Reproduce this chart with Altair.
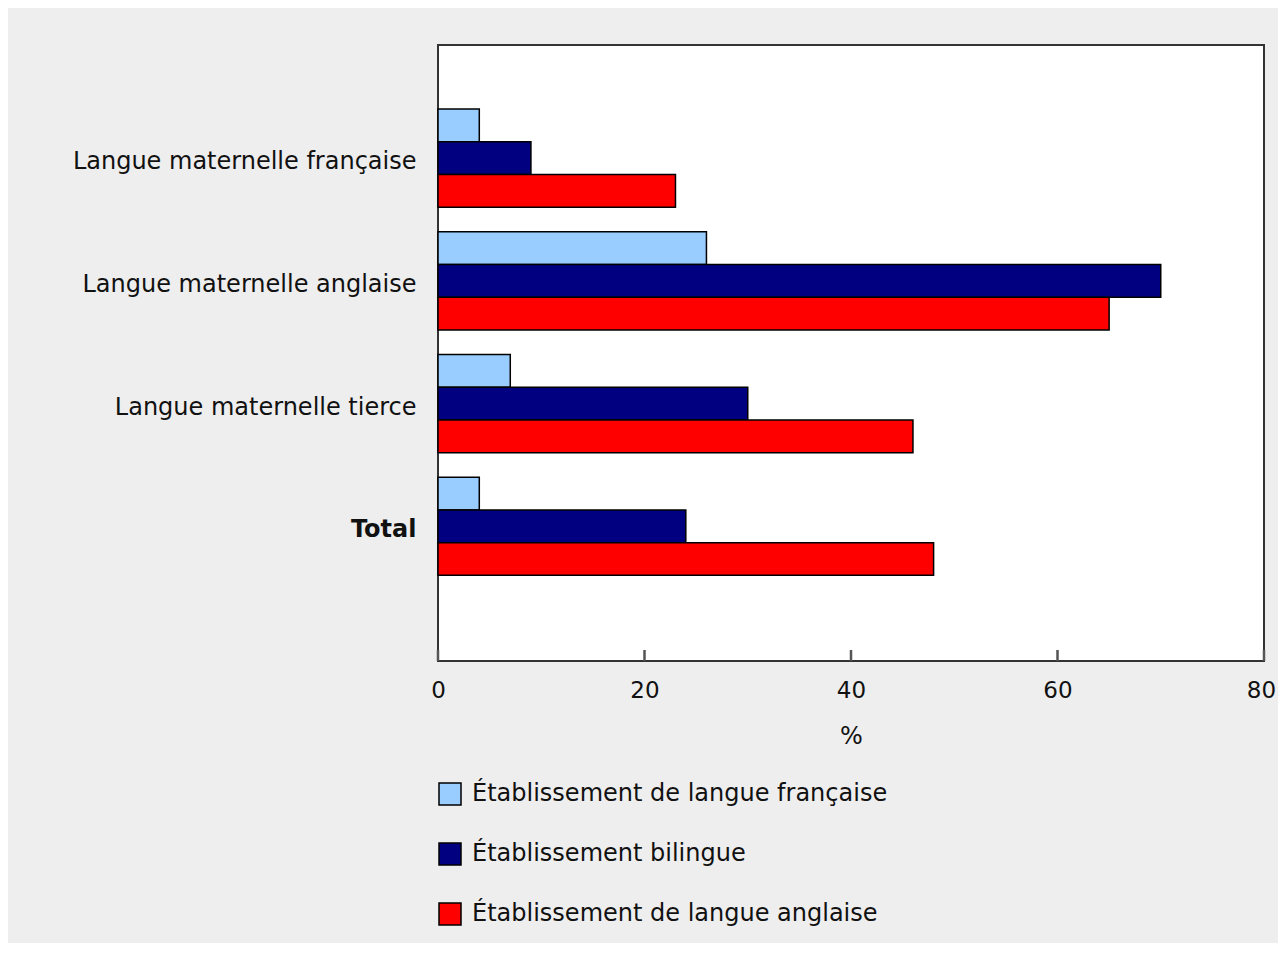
import altair as alt
import pandas as pd

categories = ["Langue maternelle française", "Langue maternelle anglaise",
              "Langue maternelle tierce", "Total"]
series = ["Établissement de langue française", "Établissement bilingue",
          "Établissement de langue anglaise"]
vals_fr = [4, 26, 7, 4]
vals_bi = [9, 70, 30, 24]
vals_en = [23, 65, 46, 48]
colors = ["#99ccff", "#000080", "#ff0000"]
tick_values = [0, 20, 40, 60, 80]

rows = []
for s, vals in zip(series, [vals_fr, vals_bi, vals_en]):
    for c, v in zip(categories, vals):
        rows.append({"cat": c, "series": s, "value": v})
df = pd.DataFrame(rows)
ticks_df = pd.DataFrame({"t": tick_values})

FONT = "DejaVu Sans"
FS = 24

x_scale = alt.Scale(domain=[0, 80], nice=False)

bars = alt.Chart(df).mark_bar(stroke="black", strokeWidth=1.5).encode(
    y=alt.Y("cat:N", sort=categories,
            scale=alt.Scale(paddingInner=0.2, paddingOuter=0.61, align=0.428),
            axis=alt.Axis(title=None, ticks=False, domain=False, labelPadding=22,
                          labelFontSize=FS, labelFont=FONT, labelColor="#111111",
                          labelLimit=500, labelBaseline="middle", labelOffset=4,
                          labelFontWeight={"condition": {"test": "datum.value == 'Total'", "value": "bold"},
                                           "value": "normal"})),
    yOffset=alt.YOffset("series:N", sort=series,
                        scale=alt.Scale(paddingInner=0, paddingOuter=0)),
    x=alt.X("value:Q", scale=x_scale,
            axis=alt.Axis(values=tick_values, ticks=False, grid=False, domain=False,
                          labelFlush=False, labelOverlap=False,
                          labelOffset={"condition": {"test": "datum.value == 80", "value": -3},
                                       "value": 0},
                          labelPadding=18, labelFontSize=23, labelFont=FONT,
                          labelColor="#111111", title="%", titleFont=FONT,
                          titleFontSize=FS, titleFontWeight="normal", titleColor="#111111",
                          titlePadding=22)),
    color=alt.Color("series:N", sort=series,
                    scale=alt.Scale(domain=series, range=colors),
                    legend=alt.Legend(title=None, orient="none", legendX=0, legendY=737,
                                      symbolType="square", symbolSize=484,
                                      symbolStrokeColor="black", symbolStrokeWidth=1.5,
                                      symbolOpacity=1,
                                      labelFont=FONT, labelFontSize=FS, labelColor="#111111",
                                      labelOffset=10, rowPadding=32, labelLimit=700)),
)

ticks = alt.Chart(ticks_df).mark_rule(color="#555555", strokeWidth=2.5).encode(
    x=alt.X("t:Q", scale=x_scale),
    y=alt.value(605),
    y2=alt.value(616),
)

chart = alt.layer(bars, ticks).properties(
    width=826, height=616,
    background="#eeeeee",
    autosize=alt.AutoSizeParams(type="none"),
    padding={"left": 430, "top": 37, "right": 14, "bottom": 282},
).configure_view(
    fill="white", stroke="#333333", strokeWidth=2
)

chart.save("out.html", embed_options={"renderer": "svg", "actions": False})
